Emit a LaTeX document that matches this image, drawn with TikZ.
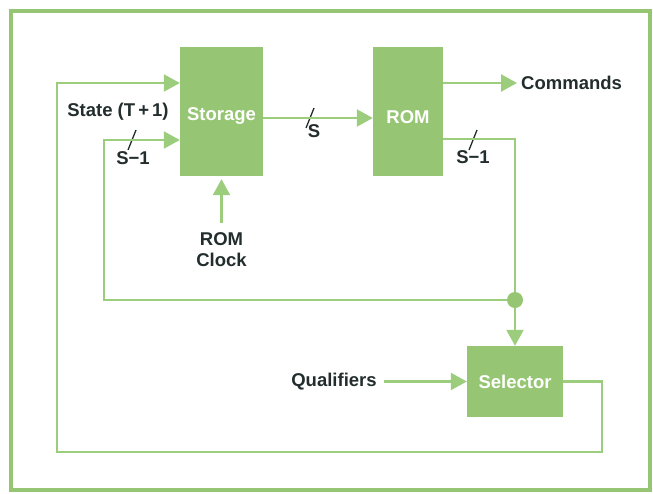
\documentclass[tikz,border=0pt]{standalone}
\usepackage{fontspec}
\setmainfont{Liberation Sans}
\usepackage{tikz}
\usetikzlibrary{calc}
\usetikzlibrary{arrows.meta}
\definecolor{boxgreen}{RGB}{150,198,115}
\definecolor{linegreen}{RGB}{155,205,125}
\definecolor{ink}{RGB}{35,45,45}
\tikzset{
  block/.style={draw=none,fill=boxgreen,inner sep=0pt},
  btext/.style={text=white,font=\bfseries\fontsize{18.5}{20}\selectfont,inner sep=0pt},
  lbl/.style={text=ink,font=\bfseries\fontsize{18.5}{21}\selectfont,inner sep=0pt,align=center},
  wire/.style={draw=linegreen,line width=2.3pt},
  link/.style={wire,-{Triangle[length=16pt,width=17pt]}},
  tick/.style={draw=ink,line width=1.3pt}
}
\newcommand{\busmark}[2]{\draw[tick] ( #1 - 4 , #2 + 10 ) -- ( #1 + 4 , #2 - 10 );}

\begin{document}
\begin{tikzpicture}[x=1pt,y=-1pt]
        \useasboundingbox (0,0) rectangle (653,493);
        \draw[boxgreen,line width=4pt] (11,11) rectangle (650,490);

        % blocks
        \node[block,minimum width=83pt,minimum height=129pt] (storage) at (221.5,111.5) {};
        \node[btext] (storagetxt) at (221.5,116) {Storage};
        \node[block,minimum width=70pt,minimum height=129pt] (rom) at (408,111.5) {};
        \node[btext] (romtxt) at (408,117) {ROM};
        \node[block,minimum width=96pt,minimum height=71pt] (selector) at (515,381.5) {};
        \node[btext] (selectortxt) at (515,381.5) {Selector};
        \node[circle,fill=boxgreen,minimum size=16pt,inner sep=0pt] (dot) at (515,300) {};

        % labels
        \node[lbl] (state) at (118,112) {State (T\,+\,1)};
        \node[lbl] (clock) at (221.5,250) {ROM\\Clock};
        \node[lbl] (qual) at (334,381.5) {Qualifiers};
        \node[lbl,anchor=west] (commands) at (521,83) {Commands};
        \coordinate (clk) at (221.5,223);

        % bus widths
        \busmark{132}{140}
        \node[lbl] (sm1a) at (133,158) {S−1};
        \busmark{310}{118}
        \node[lbl] (sbus) at (314,131) {S};
        \busmark{473}{140}
        \node[lbl] (sm1b) at (473,157) {S−1};

        % forward path
        \draw[link] ([yshift=-6.5pt]storage.east) -- ([yshift=-6.5pt]rom.west);
        \draw[link,shorten >=4pt] ([yshift=28.5pt]rom.east) -- (commands.west);
        \draw[link,shorten >=3pt] (clk) -- (storage.south);
        \draw[link] ([xshift=7pt]qual.east) -- (selector.west);

        % feedback
        \draw[wire] ([yshift=-27.5pt]rom.east) -| (dot);
        \draw[link] (dot) -- (selector.north);
        \draw[link] (dot) -- (104,300) |- ([yshift=-28.5pt]storage.west);
        \draw[link] (selector.east) -- (602,381.5) -- (602,452) -- (57,452) |- ([yshift=28.5pt]storage.west);

\end{tikzpicture}
\end{document}
